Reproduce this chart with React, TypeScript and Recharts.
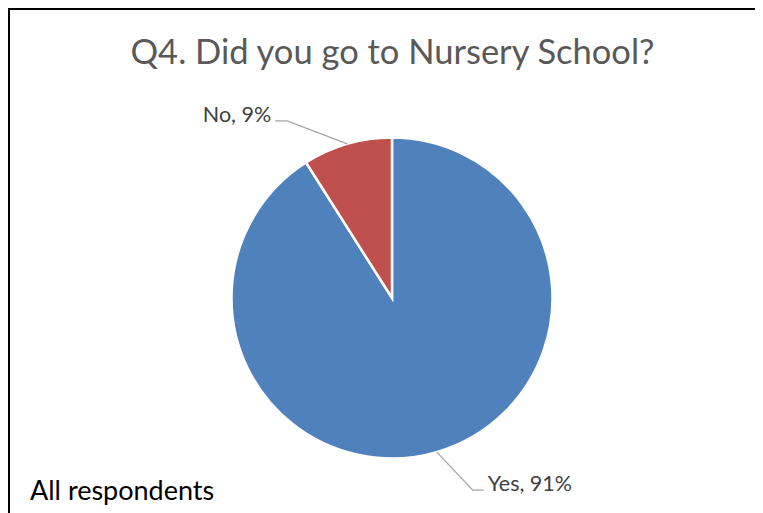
import React from 'react'
import { PieChart, Pie, Cell } from 'recharts'

const categories = ['Yes', 'No']
const shares = [91, 9]
const sliceColors = ['#4F81BD', '#C0504D']

const data = categories.map((name, i) => ({ name, value: shares[i] }))

// leader-line elbow offsets from the slice edge, per slice
const elbows = [
  { dx: 36, dy: 38, run: 11 },
  { dx: -60, dy: -23, run: -12 },
]

const RADIAN = Math.PI / 180

const renderLabel = (props: any) => {
  const { cx, cy, midAngle, outerRadius, index, name, value } = props
  const sx = cx + outerRadius * Math.cos(-midAngle * RADIAN)
  const sy = cy + outerRadius * Math.sin(-midAngle * RADIAN)
  const e = elbows[index]
  const mx = sx + e.dx
  const my = sy + e.dy
  const ex = mx + e.run
  const right = e.run > 0
  return (
    <g>
      <polyline
        points={`${sx},${sy} ${mx},${my} ${ex},${my}`}
        fill="none"
        stroke="#A6A6A6"
        strokeWidth={1.4}
      />
      <text
        x={ex + (right ? 4 : -4)}
        y={my}
        dy={1}
        textAnchor={right ? 'start' : 'end'}
        fill="#404040"
        fontSize={21.5}
        fontFamily="Lato, sans-serif"
      >
        {`${name}, ${value}%`}
      </text>
    </g>
  )
}

export default function App() {
  return (
    <div
      style={{
        position: 'relative',
        width: 755,
        height: 505,
        borderTop: '2px solid #000',
        borderLeft: '2px solid #000',
        boxSizing: 'border-box',
        background: '#fff',
        fontFamily: 'Lato, sans-serif',
      }}
    >
      <div
        style={{
          position: 'absolute',
          left: 0,
          width: 765,
          top: 21,
          textAlign: 'center',
          fontSize: 34.5,
          color: '#595959',
          lineHeight: '40px',
        }}
      >
        Q4. Did you go to Nursery School?
      </div>
      <PieChart width={753} height={503} margin={{ top: 0, right: 0, bottom: 0, left: 0 }}>
        <Pie
          data={data}
          dataKey="value"
          nameKey="name"
          cx={382}
          cy={288}
          outerRadius={160.5}
          startAngle={90}
          endAngle={-270}
          stroke="#fff"
          strokeWidth={2.5}
          label={renderLabel}
          labelLine={false}
          isAnimationActive={false}
        >
          {data.map((d, i) => (
            <Cell key={d.name} fill={sliceColors[i]} />
          ))}
        </Pie>
      </PieChart>
      <div
        style={{
          position: 'absolute',
          left: 20,
          top: 465,
          fontSize: 27,
          color: '#000',
          lineHeight: '30px',
        }}
      >
        All respondents
      </div>
    </div>
  )
}
